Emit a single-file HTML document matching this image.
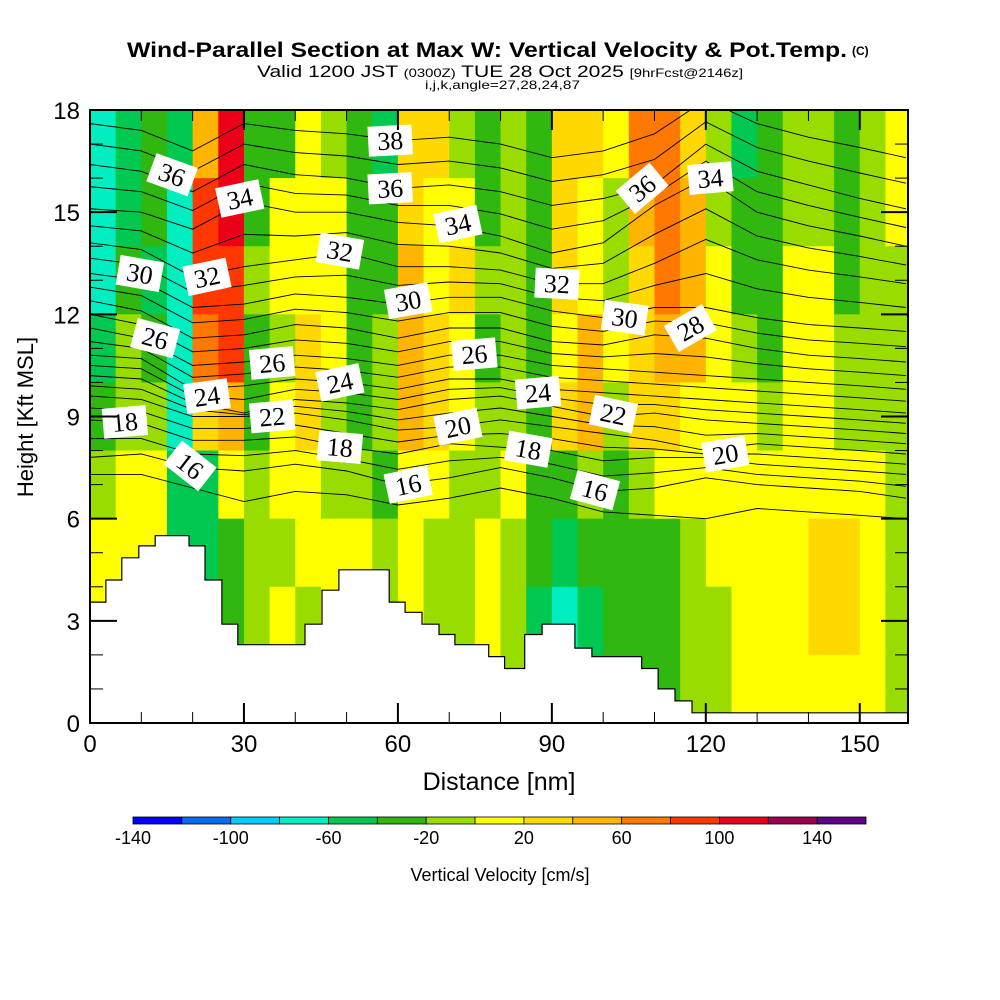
<!DOCTYPE html>
<html><head><meta charset="utf-8"><style>
html,body{margin:0;padding:0;background:#fff;}
svg{display:block;}
</style></head><body>
<svg id="chart" width="1000" height="1000" viewBox="0 0 1000 1000" xmlns="http://www.w3.org/2000/svg" font-family="Liberation Sans, sans-serif">
<rect x="0" y="0" width="1000" height="1000" fill="#fff"/>
<text x="127" y="57" font-size="21" font-weight="bold" textLength="720" lengthAdjust="spacingAndGlyphs">Wind-Parallel Section at Max W: Vertical Velocity &amp; Pot.Temp.</text>
<text x="852" y="55" font-size="12" font-weight="bold">(C)</text>
<text x="257" y="77" font-size="17" textLength="486" lengthAdjust="spacingAndGlyphs">Valid 1200 JST <tspan font-size="12">(0300Z)</tspan> TUE 28 Oct 2025 <tspan font-size="12">[9hrFcst@2146z]</tspan></text>
<text x="425" y="89" font-size="12" textLength="155" lengthAdjust="spacingAndGlyphs">i,j,k,angle=27,28,24,87</text>
<defs><clipPath id="plotclip"><rect x="90" y="110" width="818" height="613"/></clipPath></defs>
<g id="cells" clip-path="url(#plotclip)"></g>
<g id="theta" clip-path="url(#plotclip)"></g>
<g id="terrain" clip-path="url(#plotclip)"></g>
<g id="labels" clip-path="url(#plotclip)"></g>
<g id="axes"></g>
<g id="cbar"></g>
<text transform="translate(33,417) rotate(-90)" text-anchor="middle" font-size="22">Height [Kft MSL]</text>
<text x="499" y="790" text-anchor="middle" font-size="25">Distance [nm]</text>
<text x="500" y="881" text-anchor="middle" font-size="18">Vertical Velocity [cm/s]</text>
</svg>
<script>
// ---- data ----
const colStepNm = 5;
const rowStepKft = 2;
const wCol0  = [-70,-70,-70,-50,-30,-10,10,10,10];
const wCol1  = [-50,-50,-30,-10,-10,10,10,30,10];
const wCol2  = [-30,-30,-50,-30,-10,10,10,10,10];
const wCol3  = [-50,-70,-70,-70,-70,-50,-50,-30,-30];
const wCol4  = [50,90,90,70,30,-50,-50,-30,-30];
const wCol5  = [110,110,90,90,50,10,-30,-30,-30];
const wCol6  = [-30,-30,-10,-30,-30,-10,-10,-10,10];
const wCol7  = [-30,10,10,-10,10,10,-10,10,10];
const wCol8  = [10,10,10,30,30,10,10,-10,10];
const wCol9  = [-10,10,10,10,-10,-10,10,10,10];
const wCol10 = [-30,-30,-30,-30,-30,-10,10,10,10];
const wCol11 = [-50,-30,-30,-10,-10,-30,-10,-10,-10];
const wCol12 = [30,30,50,50,50,10,10,10,10];
const wCol13 = [30,10,10,30,30,10,-10,-10,-10];
const wCol14 = [-10,10,30,10,10,-10,-10,-10,10];
const wCol15 = [-30,-30,-10,-30,-10,-10,10,10,10];
const wCol16 = [-10,-10,-10,-10,-10,10,-10,-10,-10];
const wCol17 = [-30,-30,-30,-30,-30,-30,-30,-50,-50];
const wCol18 = [30,30,30,10,30,-30,-50,-70,-50];
const wCol19 = [30,10,10,50,50,-10,-30,-50,-30];
const wCol20 = [10,-10,-10,10,-10,-30,-30,-30,-30];
const wCol21 = [70,50,30,30,30,-10,-30,-30,-30];
const wCol22 = [70,70,70,50,30,10,-30,-30,-30];
const wCol23 = [30,50,50,50,10,10,-10,-10,-10];
const wCol24 = [-10,-10,10,10,10,10,10,-10,-10];
const wCol25 = [-50,-30,-30,-10,10,10,10,10,10];
const wCol26 = [-30,-30,-30,-30,-10,10,10,10,10];
const wCol27 = [-10,-10,10,10,10,10,10,10,10];
const wCol28 = [-10,-10,10,10,10,10,30,30,10];
const wCol29 = [-30,-30,-30,-10,-10,10,30,30,10];
const wCol30 = [-10,-10,-10,-10,-10,10,10,10,10];
const wCol31 = [10,10,-10,-10,-10,-10,-10,-10,-10];
const wColumns = [wCol0,wCol1,wCol2,wCol3,wCol4,wCol5,wCol6,wCol7,wCol8,wCol9,wCol10,wCol11,wCol12,wCol13,wCol14,wCol15,wCol16,wCol17,wCol18,wCol19,wCol20,wCol21,wCol22,wCol23,wCol24,wCol25,wCol26,wCol27,wCol28,wCol29,wCol30,wCol31];

const colorLevels = [-140,-120,-100,-80,-60,-40,-20,0,20,40,60,80,100,120,140,160];
const colorBins = ['#0000ff','#0a6af2','#00ccff','#00eec0','#00c850','#30b810','#98dc00','#ffff00','#ffd800','#ffb400','#ff7800','#ff3800','#ec0018','#a00050','#600088'];
const colorbarTicks = [-140,-100,-60,-20,20,60,100,140];

const terrainEdgesNm = [0,3.1,6.2,9.5,12.7,19.3,22.4,25.7,28.8,41.9,45.2,48.5,58.3,61.4,64.7,68.0,71.1,77.7,80.8,84.7,88.1,94.5,97.8,107.5,110.7,114.0,117.3,159.4];
const terrainHeightKft = [3.55,4.2,4.85,5.2,5.5,5.2,4.2,2.9,2.3,2.9,3.9,4.5,3.55,3.25,2.9,2.6,2.3,1.95,1.6,2.6,2.9,2.2,1.95,1.6,1.0,0.65,0.3];

const thetaStationsNm = [0,10,20,30,40,50,60,70,80,90,100,110,120,130,140,150,159];
const theta15 = [7.3,7.3,6.9,6.5,6.8,6.7,6.4,6.6,6.9,6.6,6.2,6.1,6.0,6.3,6.2,6.1,6.0];
const theta16 = [7.8,7.9,7.5,7.4,7.6,7.4,7.0,7.2,7.5,7.2,6.8,6.9,7.2,7.0,6.9,6.8,6.6];
const theta17 = [8.35,8.35,7.9,7.85,8.0,7.75,7.45,7.7,7.8,7.6,7.25,7.35,7.5,7.3,7.2,7.1,6.95];
const theta18 = [8.9,8.8,8.3,8.3,8.4,8.1,7.9,8.2,8.1,8.0,7.7,7.8,7.8,7.6,7.5,7.4,7.3];
const theta19 = [9.25,9.15,8.65,8.65,8.75,8.5,8.25,8.45,8.5,8.35,8.1,8.05,7.9,7.9,7.8,7.7,7.6];
const theta20 = [9.6,9.5,9.0,9.0,9.1,8.9,8.6,8.7,8.9,8.7,8.5,8.3,8.0,8.2,8.1,8.0,7.9];
const theta21 = [9.9,9.8,9.2,9.05,9.3,9.15,8.9,9.1,9.25,9.0,8.75,8.7,8.45,8.5,8.4,8.3,8.2];
const theta22 = [10.2,10.1,9.4,9.1,9.5,9.4,9.2,9.5,9.6,9.3,9.0,9.1,8.9,8.8,8.7,8.6,8.5];
const theta23 = [10.5,10.4,9.6,9.5,9.8,9.7,9.5,9.8,9.85,9.55,9.35,9.35,9.2,9.1,9.0,8.9,8.8];
const theta24 = [10.8,10.7,9.8,9.9,10.1,10.0,9.8,10.1,10.1,9.8,9.7,9.6,9.5,9.4,9.3,9.2,9.1];
const theta25 = [11.2,11.0,10.15,10.25,10.45,10.35,10.15,10.45,10.45,10.15,10.05,9.95,9.85,9.75,9.65,9.55,9.45];
const theta26 = [11.6,11.3,10.5,10.6,10.8,10.7,10.5,10.8,10.8,10.5,10.4,10.3,10.2,10.1,10.0,9.9,9.8];
const theta27 = [12.0,11.7,10.9,11.0,11.25,11.15,10.9,11.2,11.2,10.85,10.75,10.85,10.75,10.55,10.4,10.3,10.2];
const theta28 = [12.4,12.1,11.3,11.4,11.7,11.6,11.3,11.6,11.6,11.2,11.1,11.4,11.3,11.0,10.8,10.7,10.6];
const theta29 = [12.8,12.55,11.75,11.85,12.15,12.05,11.8,12.05,12.05,11.65,11.5,11.8,11.75,11.45,11.25,11.15,11.05];
const theta30 = [13.2,13.0,12.2,12.3,12.6,12.5,12.3,12.5,12.5,12.1,11.9,12.2,12.2,11.9,11.7,11.6,11.5];
const theta31 = [13.65,13.45,12.65,12.85,13.1,13.15,12.85,12.95,12.9,12.5,12.4,12.85,13.2,12.75,12.5,12.35,12.2];
const theta32 = [14.1,13.9,13.1,13.4,13.6,13.8,13.4,13.4,13.3,12.9,12.9,13.5,14.2,13.6,13.3,13.1,12.9];
const theta33 = [14.6,14.45,13.8,14.35,14.3,14.4,14.05,14.0,13.8,13.35,13.5,14.35,15.1,14.3,13.95,13.7,13.45];
const theta34 = [15.1,15.0,14.5,15.3,15.0,15.0,14.7,14.6,14.3,13.8,14.1,15.2,16.0,15.0,14.6,14.3,14.0];
const theta35 = [15.75,15.6,15.05,15.85,15.55,15.5,15.2,15.2,14.95,14.5,14.75,15.5,16.5,15.6,15.2,14.85,14.55];
const theta36 = [16.4,16.2,15.6,16.4,16.1,16.0,15.7,15.8,15.6,15.2,15.4,15.8,17.0,16.2,15.8,15.4,15.1];
const theta37 = [17.0,16.8,16.2,17.0,16.75,16.65,16.4,16.5,16.3,15.9,16.1,16.55,17.65,16.9,16.5,16.15,15.85];
const theta38 = [17.6,17.4,16.8,17.6,17.4,17.3,17.1,17.2,17.0,16.6,16.8,17.3,18.3,17.6,17.2,16.9,16.6];
const thetaLines = [theta15,theta16,theta17,theta18,theta19,theta20,theta21,theta22,theta23,theta24,theta25,theta26,theta27,theta28,theta29,theta30,theta31,theta32,theta33,theta34,theta35,theta36,theta37,theta38];

const labelText  = ['36','34','30','32','26','24','18','16','32','26','22','24','18','38','36','34','30','26','20','16','32','24','18','16','30','22','36','34','28','20'];
const labelXNm   = [16.0,29.2,9.7,22.8,12.7,22.8,6.8,19.5,48.7,35.5,35.5,48.7,48.7,58.5,58.5,71.7,62.0,74.9,71.7,62.0,91.0,87.3,85.4,98.4,104.2,102.0,107.6,120.9,117.0,123.8];
const labelYKft  = [16.1,15.4,13.2,13.1,11.3,9.6,8.84,7.55,13.86,10.57,9.0,10.0,8.1,17.1,15.7,14.65,12.4,10.83,8.7,7.0,12.9,9.7,8.04,6.84,11.9,9.07,15.7,16.0,11.6,7.9];
const labelAngle = [20,-12,10,-12,15,-8,-5,38,10,-5,-5,-12,5,-3,-3,-12,-10,-5,-12,-12,3,-5,10,15,8,12,-40,-5,-30,-10];

const xTicks = [0,30,60,90,120,150];
const yTicks = [0,3,6,9,12,15,18];

// ---- scales ----
const X0=90, X1=908, Y0=723, Y1=110;
const xMaxNm = 159.4, yMaxKft = 18;
const xs = v => X0 + v/xMaxNm*(X1-X0);
const ys = v => Y0 - v/yMaxKft*(Y0-Y1);
const NS='http://www.w3.org/2000/svg';
function mk(tag, parent, attrs){const e=document.createElementNS(NS,tag);for(const k in attrs)e.setAttribute(k,attrs[k]);parent.appendChild(e);return e;}
function colorFor(v){for(let i=0;i<colorBins.length;i++){if(v<colorLevels[i+1])return colorBins[i];}return colorBins[colorBins.length-1];}

const gC=document.getElementById('cells');
wColumns.forEach((col,ci)=>{
  col.forEach((v,ri)=>{
    const top=yMaxKft-ri*rowStepKft, bot=top-rowStepKft;
    const x0=xs(ci*colStepNm), x1=xs((ci+1)*colStepNm);
    const r=mk('rect',gC,{x:x0,y:ys(top),width:x1-x0+0.6,height:ys(bot)-ys(top)+0.6,fill:colorFor(v)});
    
    
  });
});

const gT=document.getElementById('theta');
thetaLines.forEach(arr=>{
  const pts=arr.map((h,i)=>[xs(thetaStationsNm[i]),ys(h)]);
  let d='M'+pts[0][0]+','+pts[0][1];
  for(let i=1;i<pts.length;i++){d+=' L'+pts[i][0].toFixed(1)+','+pts[i][1].toFixed(1);}
  const p=mk('path',gT,{d:d,fill:'none',stroke:'#000','stroke-width':0.9});
  
  
});

const gG=document.getElementById('terrain');
let td='M'+xs(0)+','+ys(0);
terrainHeightKft.forEach((h,i)=>{td+=' L'+xs(terrainEdgesNm[i]).toFixed(1)+','+ys(h).toFixed(1)+' L'+xs(terrainEdgesNm[i+1]).toFixed(1)+','+ys(h).toFixed(1);});
td+=' L'+xs(xMaxNm)+','+ys(0)+' Z';
const tp=mk('path',gG,{d:td,fill:'#fff',stroke:'#000','stroke-width':1.2});



const gL=document.getElementById('labels');
labelText.forEach((t,i)=>{
  const g=mk('g',gL,{transform:'translate('+xs(labelXNm[i]).toFixed(1)+','+ys(labelYKft[i]).toFixed(1)+') rotate('+labelAngle[i]+')'});
  
  
  mk('rect',g,{x:-22,y:-15,width:44,height:30,fill:'#fff'});
  const tx=mk('text',g,{x:0,y:9,'text-anchor':'middle','font-size':26,'font-family':'Liberation Serif, serif'});
  tx.textContent=t;
});

const gA=document.getElementById('axes');
const fr=mk('rect',gA,{x:X0,y:Y1,width:X1-X0,height:Y0-Y1,fill:'none',stroke:'#000','stroke-width':2});


for(let v=0;v<=158;v+=10){
  const major=(v%30===0), L=major?20:11;
  mk('line',gA,{x1:xs(v),x2:xs(v),y1:Y0,y2:Y0-L,stroke:'#000','stroke-width':major?2:1});
  mk('line',gA,{x1:xs(v),x2:xs(v),y1:Y1,y2:Y1+L,stroke:'#000','stroke-width':major?2:1});
}
for(let v=0;v<=18;v+=1){
  const major=(v%3===0), L=major?27:13;
  mk('line',gA,{x1:X0,x2:X0+L,y1:ys(v),y2:ys(v),stroke:'#000','stroke-width':major?2:1});
  mk('line',gA,{x1:X1,x2:X1-L,y1:ys(v),y2:ys(v),stroke:'#000','stroke-width':major?2:1});
}
xTicks.forEach(v=>{
  const t=mk('text',gA,{x:xs(v),y:752,'text-anchor':'middle','font-size':24});
  
  
  t.textContent=v;
});
yTicks.forEach(v=>{
  const t=mk('text',gA,{x:80,y:ys(v)+9,'text-anchor':'end','font-size':24});
  
  
  t.textContent=v;
});

const gB=document.getElementById('cbar');
const CB0=133, CB1=866, cbw=(CB1-CB0)/colorBins.length;
const cbx = v => CB0 + (v-colorLevels[0])/(colorLevels[colorLevels.length-1]-colorLevels[0])*(CB1-CB0);
colorBins.forEach((c,i)=>{
  const r=mk('rect',gB,{x:CB0+i*cbw,y:817,width:cbw,height:7,fill:c,stroke:'#000','stroke-width':0.8});
  
  
});
colorbarTicks.forEach(v=>{
  const t=mk('text',gB,{x:cbx(v),y:844,'text-anchor':'middle','font-size':18});
  
  
  t.textContent=v;
});
</script>
</body></html>
